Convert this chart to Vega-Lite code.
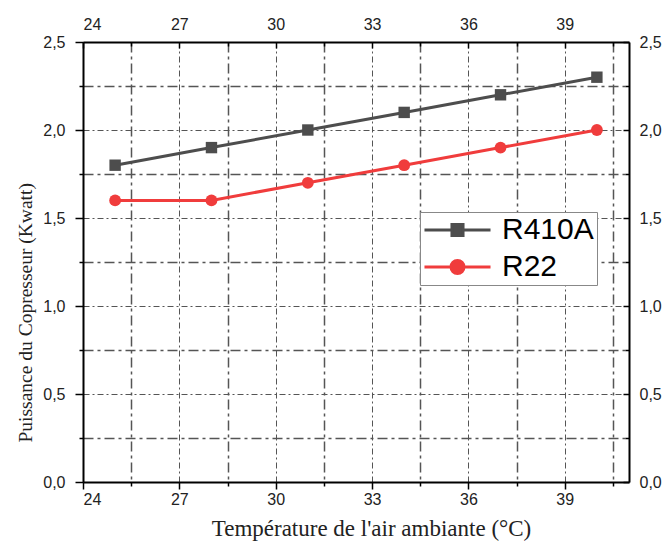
{
  "$schema": "https://vega.github.io/schema/vega-lite/v6.json",
  "autosize": "none",
  "width": 546,
  "height": 440,
  "padding": {"left": 83, "top": 42, "right": 39, "bottom": 63},
  "background": "white",
  "config": {"view": {"stroke": null}},
  "data": {"values": [
    {"T": 25, "P": 1.8, "s": "R410A"},
    {"T": 28, "P": 1.9, "s": "R410A"},
    {"T": 31, "P": 2.0, "s": "R410A"},
    {"T": 34, "P": 2.1, "s": "R410A"},
    {"T": 37, "P": 2.2, "s": "R410A"},
    {"T": 40, "P": 2.3, "s": "R410A"},
    {"T": 25, "P": 1.6, "s": "R22"},
    {"T": 28, "P": 1.6, "s": "R22"},
    {"T": 31, "P": 1.7, "s": "R22"},
    {"T": 34, "P": 1.8, "s": "R22"},
    {"T": 37, "P": 1.9, "s": "R22"},
    {"T": 40, "P": 2.0, "s": "R22"}
  ]},
  "resolve": {"axis": {"x": "independent", "y": "independent"}},
  "layer": [
    {
      "mark": {"type": "point", "opacity": 0},
      "encoding": {
        "x": {"field": "T", "type": "quantitative", "scale": {"domain": [24, 41], "nice": false, "zero": false},
          "axis": {"orient": "bottom", "values": [25.5, 28.5, 31.5, 34.5, 37.5, 40.5], "labels": false, "title": null, "domain": false,
            "grid": true, "gridDash": [10, 4, 3, 4], "gridWidth": 1.5, "gridColor": "#555",
            "ticks": true, "tickSize": 4, "tickColor": "#000", "tickWidth": 1.5}},
        "y": {"field": "P", "type": "quantitative", "scale": {"domain": [0, 2.5], "nice": false, "zero": true},
          "axis": {"orient": "left", "values": [0.25, 0.75, 1.25, 1.75, 2.25], "labels": false, "title": null, "domain": false,
            "grid": true, "gridDash": [10, 4, 3, 4], "gridWidth": 1.5, "gridColor": "#555",
            "ticks": true, "tickSize": 4, "tickColor": "#000", "tickWidth": 1.5}}
      }
    },
    {
      "mark": {"type": "point", "opacity": 0},
      "encoding": {
        "x": {"field": "T", "type": "quantitative", "scale": {"domain": [24, 41], "nice": false, "zero": false},
          "axis": {"orient": "bottom", "values": [24, 27, 30, 33, 36, 39],
            "labelFont": "Liberation Sans", "labelFontSize": 16, "labelColor": "#222", "labelPadding": 2,
            "domain": true, "domainColor": "#000", "domainWidth": 2,
            "grid": true, "gridDash": [6, 3, 2, 3], "gridWidth": 1, "gridColor": "#555",
            "ticks": true, "tickSize": 7, "tickColor": "#000", "tickWidth": 1.5,
            "title": "Température de l'air ambiante (°C)", "titleFont": "Liberation Serif", "titleFontSize": 23,
            "titleFontWeight": "normal", "titleColor": "#222", "titleX": 288, "titleY": 46, "titleBaseline": "middle", "titleAnchor": "start", "titleAlign": "center"}},
        "y": {"field": "P", "type": "quantitative", "scale": {"domain": [0, 2.5], "nice": false, "zero": true},
          "axis": {"orient": "left", "values": [0, 0.5, 1, 1.5, 2, 2.5],
            "labelExpr": "replace(format(datum.value, '.1f'), '.', ',')",
            "labelFont": "Liberation Sans", "labelFontSize": 16, "labelColor": "#222", "labelPadding": 10,
            "domain": true, "domainColor": "#000", "domainWidth": 2,
            "grid": true, "gridDash": [6, 3, 2, 3], "gridWidth": 1, "gridColor": "#555",
            "ticks": true, "tickSize": 8, "tickColor": "#000", "tickWidth": 1.5,
            "title": "Puissance du Copresseur (Kwatt)", "titleFont": "Liberation Serif", "titleFontSize": 19.5,
            "titleFontWeight": "normal", "titleColor": "#222", "titleX": -58, "titleY": 400, "titleBaseline": "middle", "titleAnchor": "start"}}
      }
    },
    {
      "mark": {"type": "point", "opacity": 0},
      "encoding": {
        "x": {"field": "T", "type": "quantitative", "scale": {"domain": [24, 41], "nice": false, "zero": false},
          "axis": {"orient": "top", "values": [24, 27, 30, 33, 36, 39], "title": null,
            "labelFont": "Liberation Sans", "labelFontSize": 16, "labelColor": "#222", "labelPadding": 15.5,
            "domain": true, "domainColor": "#000", "domainWidth": 2, "grid": false,
            "ticks": true, "tickSize": -6, "tickColor": "#000", "tickWidth": 1.5}},
        "y": {"field": "P", "type": "quantitative", "scale": {"domain": [0, 2.5], "nice": false, "zero": true},
          "axis": {"orient": "right", "values": [0, 0.5, 1, 1.5, 2, 2.5], "title": null,
            "labelExpr": "replace(format(datum.value, '.1f'), '.', ',')",
            "labelFont": "Liberation Sans", "labelFontSize": 16, "labelColor": "#222", "labelPadding": 16,
            "domain": true, "domainColor": "#000", "domainWidth": 2, "grid": false,
            "ticks": true, "tickSize": -6, "tickColor": "#000", "tickWidth": 1.5}}
      }
    },
    {
      "mark": {"type": "point", "opacity": 0},
      "encoding": {
        "x": {"field": "T", "type": "quantitative", "scale": {"domain": [24, 41], "nice": false, "zero": false},
          "axis": {"orient": "top", "values": [25.5, 28.5, 31.5, 34.5, 37.5, 40.5], "title": null, "labels": false,
            "domain": false, "grid": false, "ticks": true, "tickSize": -4, "tickColor": "#000", "tickWidth": 1.5}},
        "y": {"field": "P", "type": "quantitative", "scale": {"domain": [0, 2.5], "nice": false, "zero": true},
          "axis": {"orient": "right", "values": [0.25, 0.75, 1.25, 1.75, 2.25], "title": null, "labels": false,
            "domain": false, "grid": false, "ticks": true, "tickSize": -4, "tickColor": "#000", "tickWidth": 1.5}}
      }
    },
    {
      "mark": {"type": "point", "filled": true, "opacity": 0, "size": 169, "strokeWidth": 3},
      "encoding": {
        "x": {"field": "T", "type": "quantitative", "scale": {"domain": [24, 41], "nice": false, "zero": false}, "axis": null},
        "y": {"field": "P", "type": "quantitative", "scale": {"domain": [0, 2.5], "nice": false, "zero": true}, "axis": null},
        "color": {"field": "s", "type": "nominal",
          "scale": {"domain": ["R410A", "R22"], "range": ["#4d4d4d", "#f03c3c"]},
          "legend": {"orient": "none", "legendX": 337, "legendY": 170, "title": null,
            "labelFont": "Liberation Sans", "labelFontSize": 30, "labelColor": "#000", "labelOffset": 29.5,
            "symbolSize": 169, "symbolStrokeWidth": 3, "symbolOpacity": 1, "symbolOffset": 19.5, "padding": 3, "rowPadding": 7,
            "strokeColor": "#888", "fillColor": "white"}},
        "stroke": {"field": "s", "type": "nominal",
          "scale": {"domain": ["R410A", "R22"], "range": ["#4d4d4d", "#f03c3c"]},
          "legend": {"orient": "none", "legendX": 337, "legendY": 170, "title": null,
            "labelFont": "Liberation Sans", "labelFontSize": 30, "labelColor": "#000", "labelOffset": 29.5,
            "symbolSize": 169, "symbolStrokeWidth": 3, "symbolOpacity": 1, "symbolOffset": 19.5, "padding": 3, "rowPadding": 7,
            "strokeColor": "#888", "fillColor": "white"}},
        "shape": {"field": "s", "type": "nominal",
          "scale": {"domain": ["R410A", "R22"], "range": ["M-5.08,0H-0.85M0.85,0H5.08M-0.85,-0.85H0.85V0.85H-0.85Z", "M-5.08,0H-1M1,0H5.08M-1,0A1,1,0,1,1,1,0A1,1,0,1,1,-1,0Z"]},
          "legend": {"orient": "none", "legendX": 337, "legendY": 170, "title": null,
            "labelFont": "Liberation Sans", "labelFontSize": 30, "labelColor": "#000", "labelOffset": 29.5,
            "symbolSize": 169, "symbolStrokeWidth": 3, "symbolOpacity": 1, "symbolOffset": 19.5, "padding": 3, "rowPadding": 7,
            "strokeColor": "#888", "fillColor": "white"}}
      }
    },
    {
      "mark": {"type": "line", "strokeWidth": 3},
      "encoding": {
        "x": {"field": "T", "type": "quantitative", "scale": {"domain": [24, 41], "nice": false, "zero": false}, "axis": null},
        "y": {"field": "P", "type": "quantitative", "scale": {"domain": [0, 2.5], "nice": false, "zero": true}, "axis": null},
        "color": {"field": "s", "type": "nominal", "scale": {"domain": ["R410A", "R22"], "range": ["#4d4d4d", "#f03c3c"]}, "legend": null}
      }
    },
    {
      "transform": [{"filter": "datum.s === 'R410A'"}],
      "mark": {"type": "point", "filled": true, "size": 130, "opacity": 1, "shape": "square"},
      "encoding": {
        "x": {"field": "T", "type": "quantitative", "scale": {"domain": [24, 41], "nice": false, "zero": false}, "axis": null},
        "y": {"field": "P", "type": "quantitative", "scale": {"domain": [0, 2.5], "nice": false, "zero": true}, "axis": null},
        "color": {"field": "s", "type": "nominal", "scale": {"domain": ["R410A", "R22"], "range": ["#4d4d4d", "#f03c3c"]}, "legend": null}
      }
    },
    {
      "transform": [{"filter": "datum.s === 'R22'"}],
      "mark": {"type": "point", "filled": true, "size": 140, "opacity": 1, "shape": "circle"},
      "encoding": {
        "x": {"field": "T", "type": "quantitative", "scale": {"domain": [24, 41], "nice": false, "zero": false}, "axis": null},
        "y": {"field": "P", "type": "quantitative", "scale": {"domain": [0, 2.5], "nice": false, "zero": true}, "axis": null},
        "color": {"field": "s", "type": "nominal", "scale": {"domain": ["R410A", "R22"], "range": ["#4d4d4d", "#f03c3c"]}, "legend": null}
      }
    }
  ]
}
